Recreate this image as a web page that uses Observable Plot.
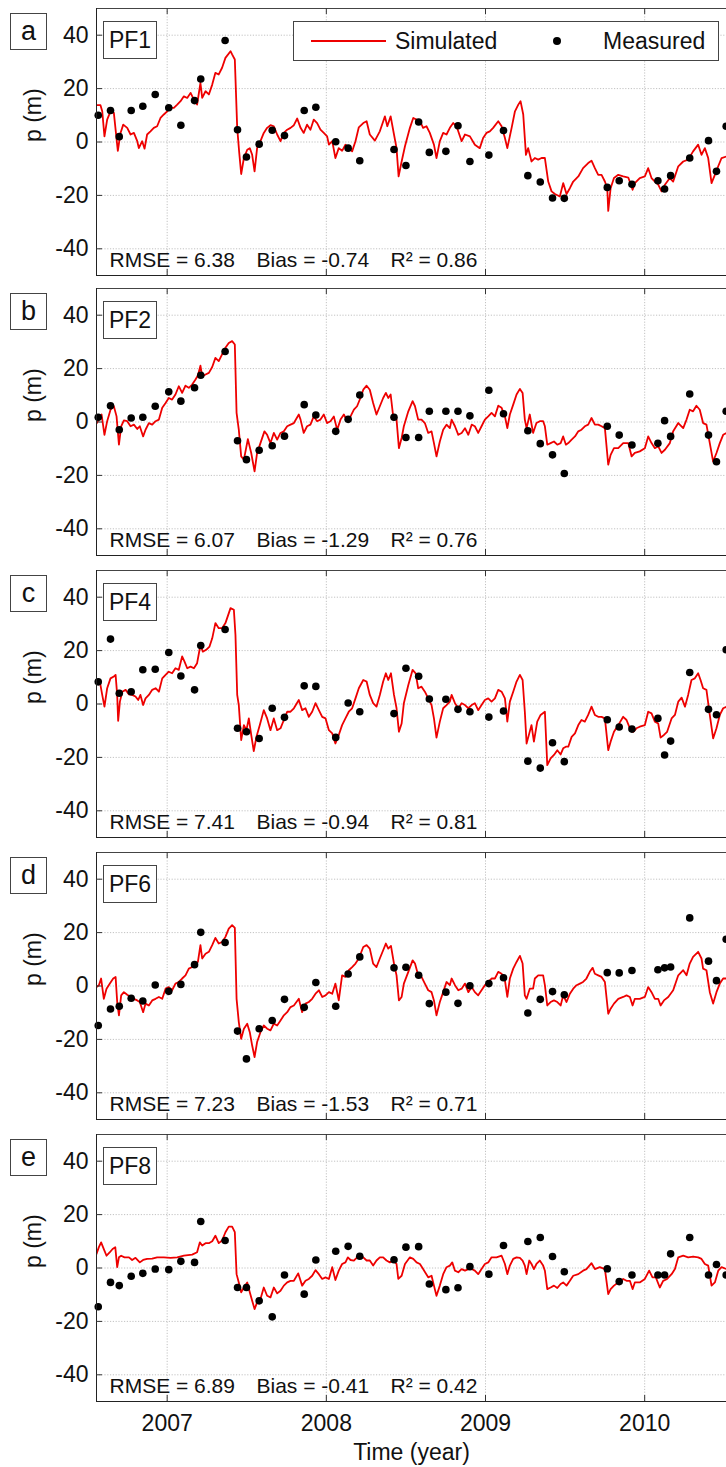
<!DOCTYPE html>
<html><head><meta charset="utf-8">
<script src="https://cdn.jsdelivr.net/npm/d3@7"></script>
<script src="https://cdn.jsdelivr.net/npm/@observablehq/plot@0.6"></script>
<style>
body{margin:0;background:#fff;}
#chart{position:relative;width:726px;height:1467px;overflow:hidden;font-family:"Liberation Sans",Arial,sans-serif;color:#111;}
#chart svg{position:absolute;left:0;}
.box{position:absolute;border:1px solid #444;background:#fff;box-sizing:border-box;display:flex;align-items:center;justify-content:center;}
.lg{position:absolute;}
</style></head>
<body><div id="chart"></div>
<script>
const years = [2007, 2008, 2009, 2010];
const pTicks = [-40, -20, 0, 20, 40];
const xDomain = [2006.556, 2010.514];
const yDomain = [-50, 50];
const xLabel = "Time (year)";
const yLabel = "p (m)";
const legendLabels = ["Simulated", "Measured"];
const panelLetters = ["a", "b", "c", "d", "e"];
const wellNames = ["PF1", "PF2", "PF4", "PF6", "PF8"];
const rmse = ["6.38", "6.07", "7.41", "7.23", "6.89"];
const bias = ["-0.74", "-1.29", "-0.94", "-1.53", "-0.41"];
const r2 = ["0.86", "0.76", "0.81", "0.71", "0.42"];

const measDates = [2006.567,2006.644,2006.699,2006.774,2006.847,2006.925,2007.010,2007.086,2007.172,2007.211,2007.364,2007.442,2007.498,2007.578,2007.660,2007.737,2007.861,2007.934,2008.059,2008.137,2008.210,2008.425,2008.500,2008.580,2008.647,2008.751,2008.827,2008.902,2009.021,2009.113,2009.266,2009.344,2009.421,2009.495,2009.765,2009.840,2009.920,2010.083,2010.125,2010.163,2010.283,2010.401,2010.451,2010.512];

const measPF1 = [10,11.8,2,11.8,13.4,17.8,12.8,6.3,15.5,23.6,38,4.6,-5.6,-0.8,4.4,2.4,11.8,13,0.1,-2.3,-7,-2.8,-8.8,7.5,-3.9,-3.5,6.1,-7.3,-4.9,4.3,-12.6,-15,-21,-21.1,-17,-14.5,-15.8,-14.5,-17.6,-12.6,-6,0.5,-11,5.9];
const measPF2 = [1.8,6.1,-2.9,1.5,1.8,5.9,11.3,7.8,12.8,17.5,26.4,-7,-14.1,-10.6,-8.9,-5.3,6.5,2.6,-3.5,1,10.1,1.8,-5.8,-5.8,4,4,4,2.3,11.9,3.1,-3.3,-8.1,-12.3,-19.3,-1.6,-4.9,-8.6,-8,0.5,-5.4,10.5,-4.9,-14.9,4];
const measPF4 = [8.3,24.3,4,4.6,12.8,13,19.3,10.5,5.3,21.9,27.9,-9.1,-10.4,-12.9,-1.6,-5,6.8,6.6,-12.5,0.4,-2.9,-3.6,13.4,10.4,1.9,1.8,-2,-2.9,-4.9,-2.6,-21.4,-24,-14.5,-21.6,-5.9,-8.6,-9.4,-5.4,-19.1,-13.9,11.8,-2,-4,20.3];
const measPF6 = [-14.8,-8.6,-7.6,-4.6,-5.6,0.4,-2,0.6,8,20.1,16.3,-16.9,-27.3,-16,-12.9,-5,-8,1.3,-7.6,4.5,10.9,6.8,7,4,-6.6,-2.3,-6.5,0.1,0.9,3.1,-10.1,-5,-2.1,-3.3,5,4.9,5.8,6.1,6.8,7.1,25.5,9.3,2,17.5];
const measPF8 = [-14.5,-5.4,-6.6,-3.1,-2,-0.4,-0.6,2.5,2.1,17.4,10.3,-7.3,-7.3,-12.3,-18.3,-2.6,-9.8,3,6.3,8.1,4.4,3.1,7.8,8,-6,-8.1,-7.4,0.5,-2.3,8.4,9.9,11.4,4.3,-1.4,-0.3,-5.1,-2.6,-2.6,-2.6,5.3,11.4,-2.6,1.3,-2.6];

const simPF1 = [[2006.556,13.8],[2006.581,13.8],[2006.592,11.5],[2006.606,2.1],[2006.623,8.4],[2006.644,11.5],[2006.665,10.9],[2006.690,-3.3],[2006.707,3.4],[2006.724,6.5],[2006.749,5.3],[2006.770,2.8],[2006.791,3.4],[2006.812,0.3],[2006.822,-2.3],[2006.843,0.3],[2006.858,-2.5],[2006.874,2.8],[2006.895,4],[2006.916,5.3],[2006.937,5.9],[2006.958,9],[2006.979,10.3],[2007.000,11.5],[2007.021,12.8],[2007.042,12.8],[2007.063,14],[2007.084,15.3],[2007.105,17.1],[2007.126,16.5],[2007.147,18.4],[2007.168,15.9],[2007.188,14],[2007.209,22.1],[2007.220,16.5],[2007.241,19],[2007.262,17.8],[2007.283,21.5],[2007.303,25.9],[2007.324,25.3],[2007.345,27.8],[2007.366,31.5],[2007.398,34],[2007.408,32.8],[2007.425,30.9],[2007.440,5.3],[2007.452,-3.5],[2007.465,-12],[2007.482,-6],[2007.503,-2.9],[2007.519,-2.3],[2007.534,-4.8],[2007.549,-11],[2007.565,-2.3],[2007.586,0.3],[2007.607,3.4],[2007.628,5.3],[2007.649,6.3],[2007.670,5.9],[2007.691,2.8],[2007.712,0.3],[2007.733,3.4],[2007.754,4.6],[2007.775,5.3],[2007.796,6.3],[2007.817,8.8],[2007.838,5.3],[2007.858,3.4],[2007.879,6.5],[2007.900,4.6],[2007.921,8.4],[2007.942,7.1],[2007.963,4.6],[2007.984,3.4],[2008.005,2.1],[2008.016,-1],[2008.037,0.3],[2008.057,-6],[2008.078,-2.3],[2008.099,-3.3],[2008.120,-1],[2008.141,-2.3],[2008.162,-3.5],[2008.183,0.3],[2008.204,5.5],[2008.232,7.1],[2008.253,7.8],[2008.273,2.8],[2008.305,0.5],[2008.336,4],[2008.368,9.6],[2008.383,5.9],[2008.404,9.6],[2008.425,2.8],[2008.441,-2.3],[2008.454,-12.9],[2008.473,-7.3],[2008.494,-1.6],[2008.525,5.3],[2008.546,9],[2008.567,8.4],[2008.588,7.8],[2008.608,5.3],[2008.629,5.9],[2008.650,3.4],[2008.676,-1],[2008.692,-6],[2008.713,0.3],[2008.734,3.4],[2008.755,2.8],[2008.776,5.3],[2008.797,7.1],[2008.818,5.9],[2008.850,0.3],[2008.871,2.8],[2008.902,2.1],[2008.933,-1],[2008.964,-2.3],[2008.985,1.5],[2009.006,3.4],[2009.027,4],[2009.048,5.3],[2009.080,7.8],[2009.101,5.9],[2009.122,1.5],[2009.137,-2.3],[2009.164,5.3],[2009.185,11.5],[2009.206,14],[2009.220,15.3],[2009.237,10.3],[2009.254,-4.8],[2009.268,-2.3],[2009.289,-7.3],[2009.310,-6],[2009.331,-6.6],[2009.352,-6],[2009.373,-6],[2009.394,-14.8],[2009.415,-18.5],[2009.436,-19.5],[2009.467,-20.4],[2009.488,-15.4],[2009.509,-19.5],[2009.530,-17.3],[2009.551,-14.8],[2009.583,-12.9],[2009.613,-9.8],[2009.645,-7.9],[2009.666,-7],[2009.687,-9.8],[2009.708,-12.3],[2009.729,-12.3],[2009.750,-14.8],[2009.765,-17.3],[2009.771,-25.8],[2009.786,-17.3],[2009.807,-13.5],[2009.834,-12.3],[2009.865,-12.9],[2009.897,-13.3],[2009.924,-17.9],[2009.938,-15.4],[2009.969,-13.5],[2010.001,-12.9],[2010.022,-9.8],[2010.043,-13.5],[2010.064,-14.8],[2010.085,-16],[2010.106,-18.5],[2010.127,-16],[2010.158,-13.5],[2010.179,-14.8],[2010.211,-9.1],[2010.242,-7.3],[2010.273,-6.6],[2010.304,-3.5],[2010.336,-1],[2010.357,-4.8],[2010.378,-2.3],[2010.399,-6],[2010.420,-15.4],[2010.441,-12.3],[2010.462,-9.1],[2010.483,-6],[2010.514,-5.4]];

const simPF2 = [[2006.556,-0.6],[2006.571,0.9],[2006.588,2.8],[2006.606,-4.8],[2006.623,0.3],[2006.644,4.6],[2006.665,5.9],[2006.682,2.1],[2006.697,-8.5],[2006.711,-1.6],[2006.728,0.6],[2006.749,0.3],[2006.770,-1.6],[2006.791,-1],[2006.812,-2.6],[2006.828,-1.6],[2006.849,-5.4],[2006.864,-2.9],[2006.885,-0.4],[2006.906,-1],[2006.927,0.3],[2006.948,0.9],[2006.969,5.3],[2006.990,7.1],[2007.010,9],[2007.031,8.4],[2007.052,10.3],[2007.073,13.4],[2007.094,10.9],[2007.115,13.6],[2007.136,12.8],[2007.157,14],[2007.178,15.9],[2007.193,17.4],[2007.209,21.1],[2007.220,17.1],[2007.241,17.8],[2007.262,18.4],[2007.283,20.6],[2007.303,24],[2007.324,22.8],[2007.345,25.3],[2007.366,27.8],[2007.387,29.6],[2007.408,30.3],[2007.425,29],[2007.436,3.4],[2007.450,-2.9],[2007.465,-12.9],[2007.482,-14.1],[2007.507,-6.4],[2007.528,-11.6],[2007.549,-18.5],[2007.565,-11.6],[2007.586,-7.9],[2007.611,-3.5],[2007.628,-4.8],[2007.649,-7.9],[2007.670,-4.1],[2007.691,-6.6],[2007.712,-4.1],[2007.733,-3.5],[2007.754,-1.6],[2007.775,-1],[2007.796,-0.4],[2007.827,2.8],[2007.838,0.9],[2007.858,-4.1],[2007.879,-1.6],[2007.900,-1],[2007.921,2.1],[2007.942,0.3],[2007.963,0.9],[2007.984,2.8],[2008.005,-0.4],[2008.026,0.3],[2008.047,2.1],[2008.068,-2.9],[2008.089,0.9],[2008.110,2.8],[2008.131,0.3],[2008.152,2.1],[2008.173,4.6],[2008.193,5.9],[2008.214,9],[2008.232,12.1],[2008.253,13.6],[2008.273,12.1],[2008.294,7.1],[2008.315,2.8],[2008.336,5.9],[2008.357,9],[2008.374,10.9],[2008.389,9],[2008.404,10.3],[2008.420,2.1],[2008.441,0.9],[2008.456,-9.8],[2008.473,-6],[2008.487,-1.6],[2008.515,4],[2008.542,7.8],[2008.557,5.9],[2008.577,0.9],[2008.598,0.9],[2008.619,-0.4],[2008.640,-4.1],[2008.661,-3.5],[2008.676,-7.9],[2008.692,-12.9],[2008.713,-7.3],[2008.734,-2.9],[2008.755,-1],[2008.776,-2.3],[2008.787,0.9],[2008.808,-1.6],[2008.829,-4.8],[2008.850,-4.1],[2008.871,-2.3],[2008.892,-4.8],[2008.913,-1],[2008.933,-1.6],[2008.954,-4.1],[2008.975,-1.6],[2008.996,0.9],[2009.017,2.1],[2009.038,3.4],[2009.059,2.1],[2009.080,6.1],[2009.101,5.3],[2009.122,2.1],[2009.137,-2.3],[2009.153,2.8],[2009.174,6.5],[2009.195,10.3],[2009.216,12.4],[2009.233,10.9],[2009.247,0.9],[2009.258,-2.3],[2009.278,2.8],[2009.299,-4.1],[2009.320,-0.4],[2009.341,0.3],[2009.362,0.3],[2009.373,-1.6],[2009.388,-8.5],[2009.409,-7.9],[2009.430,-7.3],[2009.451,-8.5],[2009.472,-7.9],[2009.488,-5.4],[2009.505,-8.5],[2009.520,-7.9],[2009.541,-6.6],[2009.562,-5.4],[2009.583,-3.5],[2009.603,-2.9],[2009.624,-1.6],[2009.645,-1],[2009.666,1.5],[2009.687,-1],[2009.708,-1],[2009.729,-1.6],[2009.750,-2.3],[2009.771,-16],[2009.786,-12.3],[2009.807,-9.8],[2009.834,-9.8],[2009.865,-7.9],[2009.897,-7.9],[2009.918,-12.9],[2009.938,-11.6],[2009.969,-11],[2010.001,-9.8],[2010.022,-5.4],[2010.043,-7.9],[2010.064,-9.8],[2010.085,-9.1],[2010.106,-11.6],[2010.127,-10.4],[2010.158,-7.9],[2010.179,-3.5],[2010.211,-0.4],[2010.242,-2.3],[2010.263,0.9],[2010.283,4.6],[2010.304,4],[2010.325,6.1],[2010.346,4.6],[2010.367,-0.4],[2010.388,-1],[2010.409,-7.9],[2010.430,-14.8],[2010.451,-11.6],[2010.472,-7.9],[2010.493,-4.8],[2010.514,-4.1]];

const simPF4 = [[2006.556,7.8],[2006.577,8.4],[2006.592,3.4],[2006.606,-1],[2006.623,5.9],[2006.644,9.6],[2006.665,10.3],[2006.676,10.9],[2006.686,3.4],[2006.692,-6.3],[2006.703,0.9],[2006.718,4.6],[2006.739,5.3],[2006.760,3.6],[2006.780,3.4],[2006.801,2.8],[2006.818,1.5],[2006.832,3.4],[2006.849,-0.4],[2006.864,2.1],[2006.885,3.4],[2006.906,5.3],[2006.927,5.9],[2006.948,4.6],[2006.969,9.6],[2006.990,10.9],[2007.010,12.1],[2007.031,11.5],[2007.052,13.4],[2007.073,12.8],[2007.094,17.8],[2007.109,15.9],[2007.126,13.4],[2007.147,14],[2007.168,13.4],[2007.188,15.3],[2007.209,22.1],[2007.224,19.6],[2007.245,20.3],[2007.266,21.5],[2007.283,24.6],[2007.303,30.3],[2007.324,28.4],[2007.345,28.4],[2007.366,30.3],[2007.398,35.9],[2007.419,35.3],[2007.429,25.9],[2007.440,3.4],[2007.450,-0.4],[2007.465,-13.5],[2007.482,-7.9],[2007.498,-9.8],[2007.513,-5.4],[2007.528,-11.6],[2007.544,-17.6],[2007.561,-12.3],[2007.582,-7.9],[2007.607,-2.3],[2007.628,-5.4],[2007.649,-9.8],[2007.670,-5.4],[2007.691,-9.8],[2007.712,-9.1],[2007.733,-6],[2007.754,-2.9],[2007.775,-2.9],[2007.796,-1.6],[2007.827,1.5],[2007.848,-2.3],[2007.869,-1.6],[2007.890,-4.8],[2007.911,-2.9],[2007.932,0.3],[2007.953,-2.3],[2007.974,-4.8],[2007.995,-5.4],[2008.016,-9.8],[2008.037,-11],[2008.057,-14.8],[2008.078,-11.6],[2008.099,-7.9],[2008.120,-5.4],[2008.141,-2.9],[2008.162,-1.6],[2008.183,2.1],[2008.204,5.9],[2008.232,9],[2008.253,8.4],[2008.273,3.4],[2008.294,0.3],[2008.315,-1],[2008.336,3.4],[2008.357,8.4],[2008.374,11.5],[2008.389,9],[2008.406,11.5],[2008.425,3.4],[2008.441,-1.6],[2008.456,-10.4],[2008.473,-7.3],[2008.487,0.3],[2008.515,7.1],[2008.542,12.8],[2008.561,11.5],[2008.577,5.9],[2008.598,6.5],[2008.619,4.6],[2008.640,2.1],[2008.661,-0.4],[2008.676,-5.4],[2008.692,-12.6],[2008.713,-6.6],[2008.734,-1.6],[2008.755,-0.4],[2008.776,0.9],[2008.787,3.4],[2008.808,0.3],[2008.829,-1.6],[2008.850,0.3],[2008.871,-0.4],[2008.892,-1.6],[2008.913,-0.4],[2008.933,0.3],[2008.954,-2.3],[2008.975,-0.4],[2008.996,1.5],[2009.017,2.1],[2009.038,0.9],[2009.059,2.1],[2009.080,5.3],[2009.101,4.6],[2009.122,2.1],[2009.137,-6.6],[2009.153,0.9],[2009.174,4.6],[2009.195,8.4],[2009.216,10.9],[2009.233,9],[2009.247,-2.9],[2009.258,-14.8],[2009.275,-11],[2009.289,-7.9],[2009.304,-14.1],[2009.325,-6.6],[2009.346,-4.1],[2009.373,-2.9],[2009.388,-22.9],[2009.409,-20.4],[2009.430,-19.1],[2009.451,-17.3],[2009.472,-18.9],[2009.488,-16.6],[2009.505,-16],[2009.520,-16],[2009.541,-12.3],[2009.562,-11],[2009.583,-7.9],[2009.603,-6],[2009.624,-6.6],[2009.645,-4.1],[2009.666,-1],[2009.687,-4.1],[2009.708,-4.8],[2009.729,-4.8],[2009.750,-5.4],[2009.771,-17.3],[2009.786,-14.1],[2009.807,-10.4],[2009.834,-7.9],[2009.865,-4.8],[2009.886,-6],[2009.907,-9.1],[2009.928,-10.4],[2009.948,-9.1],[2009.969,-8.5],[2010.001,-7.9],[2010.022,-2.9],[2010.043,-3.5],[2010.064,-6.6],[2010.085,-7.3],[2010.100,-12.6],[2010.121,-11.6],[2010.141,-10.4],[2010.169,-5.4],[2010.190,-4.1],[2010.211,0.9],[2010.232,2.4],[2010.253,-1],[2010.273,3.4],[2010.294,9],[2010.315,9.6],[2010.336,11.5],[2010.351,9],[2010.367,5.9],[2010.388,5.3],[2010.409,-4.1],[2010.430,-12.9],[2010.451,-9.1],[2010.472,-4.1],[2010.493,-1.6],[2010.514,-1]];

const simPF6 = [[2006.556,-0.4],[2006.571,0.3],[2006.585,2.8],[2006.602,-4.8],[2006.619,-1],[2006.640,0.9],[2006.661,2.8],[2006.676,3.4],[2006.686,-6],[2006.697,-11],[2006.711,-3.5],[2006.728,-2.3],[2006.749,-3.3],[2006.770,-4.1],[2006.791,-4.8],[2006.812,-5.4],[2006.828,-6],[2006.849,-9.8],[2006.864,-6.6],[2006.885,-7.3],[2006.906,-5.4],[2006.927,-4.8],[2006.948,-4.1],[2006.969,-4.8],[2006.990,-1],[2007.010,-0.4],[2007.031,-1.6],[2007.052,0.9],[2007.073,1.5],[2007.094,2.8],[2007.115,4],[2007.136,6.5],[2007.157,7.1],[2007.178,8.4],[2007.193,9],[2007.209,15.3],[2007.220,10.3],[2007.241,12.1],[2007.262,12.8],[2007.283,15.3],[2007.303,18],[2007.324,15.9],[2007.345,16.5],[2007.366,18.4],[2007.387,21.5],[2007.408,22.8],[2007.425,21.8],[2007.436,-4.8],[2007.450,-13.5],[2007.465,-19.8],[2007.482,-16],[2007.503,-14.1],[2007.519,-17.3],[2007.534,-22.3],[2007.549,-26.6],[2007.565,-21],[2007.586,-17.3],[2007.607,-14.8],[2007.628,-16],[2007.649,-16.6],[2007.670,-14.1],[2007.691,-14.8],[2007.712,-12.9],[2007.733,-11],[2007.754,-9.8],[2007.775,-7.9],[2007.796,-7.3],[2007.827,-4.8],[2007.848,-9.8],[2007.869,-6.6],[2007.890,-6],[2007.911,-4.8],[2007.932,-2.9],[2007.953,-1.6],[2007.974,-4.1],[2007.995,-3.5],[2008.016,-2.3],[2008.037,-2.9],[2008.057,0.9],[2008.078,-5.4],[2008.099,4],[2008.120,3.4],[2008.141,5.9],[2008.162,7.1],[2008.183,8.4],[2008.204,10.3],[2008.232,14.6],[2008.253,15.3],[2008.273,14],[2008.294,8.4],[2008.315,7.1],[2008.336,10.3],[2008.357,13.4],[2008.374,15.9],[2008.389,14],[2008.406,15],[2008.425,8.4],[2008.441,4],[2008.456,-5.4],[2008.473,-4.1],[2008.487,0.9],[2008.515,5.3],[2008.542,9.6],[2008.557,8.4],[2008.577,4],[2008.598,3.4],[2008.619,0.9],[2008.640,-1.6],[2008.661,-2.3],[2008.676,-5.4],[2008.692,-11],[2008.713,-6],[2008.734,-2.3],[2008.755,1.5],[2008.776,0.3],[2008.787,2.8],[2008.808,0.3],[2008.829,-1.6],[2008.850,-1],[2008.871,0.9],[2008.892,-2.3],[2008.913,-0.4],[2008.933,-2.3],[2008.954,-3.5],[2008.975,-1.6],[2008.996,0.3],[2009.017,1.5],[2009.038,2.8],[2009.059,2.8],[2009.080,5.3],[2009.101,4.6],[2009.122,2.1],[2009.137,-4.1],[2009.153,2.8],[2009.174,6.5],[2009.195,9],[2009.216,11.3],[2009.233,8.4],[2009.247,-3.5],[2009.258,-4.8],[2009.278,-1],[2009.299,-1],[2009.310,2.8],[2009.331,4],[2009.362,4],[2009.373,0.3],[2009.388,-7.3],[2009.409,-6],[2009.430,-5.4],[2009.451,-6],[2009.472,-7.3],[2009.488,-3.5],[2009.509,-6],[2009.530,-2.9],[2009.551,-1],[2009.572,0.3],[2009.593,0.9],[2009.613,1.5],[2009.634,2.8],[2009.655,5.3],[2009.673,6.8],[2009.687,4.6],[2009.708,4],[2009.729,3.4],[2009.750,1.5],[2009.771,-10.4],[2009.786,-8.5],[2009.807,-6.6],[2009.834,-4.8],[2009.865,-4.1],[2009.886,-3.5],[2009.907,-4.1],[2009.924,-7.3],[2009.938,-4.8],[2009.969,-4.8],[2010.001,-4.1],[2010.022,-0.4],[2010.043,-2.3],[2010.064,-4.8],[2010.085,-4.8],[2010.100,-7.3],[2010.121,-5.4],[2010.148,-4.1],[2010.179,-1.6],[2010.211,4],[2010.242,5.9],[2010.263,4],[2010.283,8.4],[2010.304,10.9],[2010.336,12.8],[2010.357,10.3],[2010.367,6.5],[2010.388,5.9],[2010.409,-2.3],[2010.430,-6.6],[2010.451,-2.3],[2010.472,0.9],[2010.493,2.8],[2010.514,2.8]];

const simPF8 = [[2006.556,5.3],[2006.571,7.8],[2006.585,9.6],[2006.602,7.1],[2006.619,4.6],[2006.640,5.9],[2006.657,7.1],[2006.674,7.8],[2006.686,0.3],[2006.697,4],[2006.711,4.6],[2006.732,4],[2006.760,4],[2006.780,3],[2006.801,3.8],[2006.828,2.1],[2006.849,3],[2006.874,3.4],[2006.906,3.5],[2006.937,4],[2006.979,4],[2007.021,3.8],[2007.063,4],[2007.105,4.6],[2007.157,5],[2007.188,5.9],[2007.205,9.6],[2007.220,8.4],[2007.241,9.3],[2007.262,9.3],[2007.283,10],[2007.303,12.1],[2007.324,9.3],[2007.345,10.3],[2007.366,13.4],[2007.387,15.5],[2007.408,15.5],[2007.425,13.4],[2007.436,-2.3],[2007.450,-5.4],[2007.465,-9.1],[2007.482,-7.3],[2007.503,-5.4],[2007.519,-9.1],[2007.534,-12.3],[2007.549,-15.4],[2007.565,-12.9],[2007.586,-11.6],[2007.607,-7.3],[2007.628,-10.4],[2007.649,-11],[2007.670,-7.3],[2007.691,-9.5],[2007.712,-8.5],[2007.733,-6.6],[2007.754,-5.4],[2007.775,-4.8],[2007.796,-4.8],[2007.823,-2],[2007.848,-6.6],[2007.869,-4.8],[2007.890,-4.1],[2007.911,-2.9],[2007.932,-0.8],[2007.953,-2.3],[2007.974,-4.1],[2007.995,-3.5],[2008.016,-4.1],[2008.037,0.3],[2008.057,-4.5],[2008.078,-1],[2008.099,1.5],[2008.120,2.1],[2008.135,4],[2008.152,3],[2008.173,2.8],[2008.193,4],[2008.214,4.3],[2008.232,4],[2008.253,2.8],[2008.273,2.8],[2008.294,0.9],[2008.315,2.8],[2008.336,4],[2008.357,4],[2008.378,2.8],[2008.399,2.1],[2008.420,2.8],[2008.441,1.5],[2008.452,-4.1],[2008.473,-2.9],[2008.494,1.5],[2008.525,4],[2008.546,3.4],[2008.567,2.1],[2008.588,1.5],[2008.608,-0.4],[2008.640,-3.5],[2008.661,-2.9],[2008.676,-6.6],[2008.692,-10.4],[2008.713,-6.6],[2008.734,-2.3],[2008.755,0.3],[2008.776,0.9],[2008.791,2.1],[2008.808,-1],[2008.829,-1.6],[2008.850,-0.4],[2008.871,-1],[2008.892,-0.4],[2008.913,-0.4],[2008.933,-1],[2008.954,-2.3],[2008.975,-0.4],[2008.996,1.5],[2009.017,2.1],[2009.038,4],[2009.069,4],[2009.101,4.6],[2009.122,1.5],[2009.137,-2.3],[2009.153,0.9],[2009.174,3.4],[2009.195,4],[2009.216,3.8],[2009.233,2.8],[2009.247,0.9],[2009.258,-2.3],[2009.275,2.8],[2009.289,1.5],[2009.304,-0.4],[2009.320,1.5],[2009.341,2.8],[2009.362,0.9],[2009.373,-1],[2009.388,-7.9],[2009.409,-7.3],[2009.430,-6.6],[2009.451,-7.5],[2009.472,-6],[2009.488,-5.4],[2009.509,-6.6],[2009.530,-4.8],[2009.551,-2.9],[2009.583,-2.3],[2009.613,-1],[2009.634,-0.4],[2009.666,1.8],[2009.687,-0.4],[2009.718,0.3],[2009.750,-0.4],[2009.771,-9.8],[2009.786,-7.9],[2009.807,-6.6],[2009.834,-5.4],[2009.865,-4.1],[2009.886,-4.8],[2009.907,-4.8],[2009.924,-7.9],[2009.938,-5.4],[2009.969,-5.4],[2010.001,-4.1],[2010.028,-1],[2010.049,-3.5],[2010.070,-3.5],[2010.095,-7.3],[2010.116,-4.8],[2010.141,-4.1],[2010.169,-2.3],[2010.190,-0.4],[2010.211,4],[2010.242,4.6],[2010.273,4],[2010.304,4.3],[2010.336,4],[2010.357,3.4],[2010.378,1.5],[2010.399,0.9],[2010.420,-6.6],[2010.441,-5.4],[2010.462,-1],[2010.483,0.3],[2010.514,-0.4]];

const simSeries = [simPF1, simPF2, simPF4, simPF6, simPF8];
const measSeries = [measPF1, measPF2, measPF4, measPF6, measPF8];

const chart = document.getElementById("chart");
const FONT = '"Liberation Sans", Arial, sans-serif';
const tops = [8, 288, 570, 852, 1134];
const H = 267, W = 630, ML = 96, MT = 8;
const gridStyle = {stroke: "#c2c2c2", strokeDasharray: "1.2,1.6"};

simSeries.forEach((sim, i) => {
  const last = i === 4;
  const MB = last ? 66 : 6;
  const simRows = sim.map(([t, p]) => ({t, p}));
  const measRows = measDates.map((t, j) => ({t, p: measSeries[i][j]}));
  const statStyle = {text: d => d, frameAnchor: "bottom-left", dy: -15, textAnchor: "start", lineAnchor: "middle", fontSize: 21};
  const marks = [
    Plot.ruleX(years, gridStyle),
    Plot.ruleY(pTicks, gridStyle),
    Plot.line(simRows, {x: "t", y: "p", stroke: "#ee0000", strokeWidth: 1.8, strokeLinejoin: "round", clip: true}),
    Plot.dot(measRows, {x: "t", y: "p", r: 3.8, fill: "#000", stroke: "none"}),
    Plot.ruleY([yDomain[0]], {stroke: "#222"}),
    Plot.ruleY([yDomain[1]], {stroke: "#444"}),
    Plot.ruleX([xDomain[0]], {stroke: "#222"}),
    Plot.tickX(years, {x: d => d, stroke: "#333", insetTop: H - 6}),
    Plot.tickX(years, {x: d => d, stroke: "#333", insetBottom: H - 6}),
    Plot.tickY(pTicks, {y: d => d, stroke: "#333", insetRight: W - 6}),
    Plot.axisY({ticks: pTicks, tickSize: 0, tickPadding: 8, tickFormat: d => String(d), fontSize: 23, label: null}),
    Plot.text([yLabel], {text: d => d, frameAnchor: "left", dx: -63, rotate: -90, lineAnchor: "middle", fontSize: 23}),
    Plot.text(["RMSE = " + rmse[i]], {...statStyle, dx: 13}),
    Plot.text(["Bias = " + bias[i]], {...statStyle, dx: 160}),
    Plot.text(["R\u00B2 = " + r2[i]], {...statStyle, dx: 294})
  ];
  if (last) {
    marks.push(Plot.axisX({ticks: years, tickSize: 0, tickPadding: 13, tickFormat: d => String(d), fontSize: 23, label: null}));
    marks.push(Plot.text([xLabel], {text: d => d, frameAnchor: "bottom", dy: 51, lineAnchor: "middle", fontSize: 23}));
  }
  const svg = Plot.plot({
    width: 726, height: MT + H + MB,
    marginLeft: ML, marginRight: 0, marginTop: MT, marginBottom: MB,
    x: last ? {domain: xDomain} : {domain: xDomain, axis: null},
    y: {domain: yDomain},
    style: {background: "transparent", overflow: "visible", fontFamily: FONT, fontSize: "22px", color: "#111"},
    marks
  });
  svg.style.top = (tops[i] - MT) + "px";
  chart.appendChild(svg);

  const letter = document.createElement("div");
  letter.className = "box";
  Object.assign(letter.style, {left: "10px", top: (tops[i] + 5) + "px", width: "37px", height: "37px", fontSize: "27px"});
  letter.textContent = panelLetters[i];
  chart.appendChild(letter);

  const name = document.createElement("div");
  name.className = "box";
  Object.assign(name.style, {left: "103px", top: (tops[i] + 13) + "px", width: "54px", height: "38px", fontSize: "23px"});
  name.textContent = wellNames[i];
  chart.appendChild(name);
});

// legend
const lg = document.createElement("div");
lg.className = "box";
Object.assign(lg.style, {left: "293px", top: (tops[0] + 13) + "px", width: "426px", height: "40px", display: "block", fontSize: "23px"});
lg.innerHTML =
  '<div class="lg" style="left:17px;top:18px;width:75px;height:2px;background:#ee0000"></div>' +
  '<span class="lg" style="left:101px;top:6px;line-height:26px">' + legendLabels[0] + '</span>' +
  '<div class="lg" style="left:259px;top:15px;width:8px;height:8px;border-radius:50%;background:#000"></div>' +
  '<span class="lg" style="left:309px;top:6px;line-height:26px">' + legendLabels[1] + '</span>';
chart.appendChild(lg);
</script></body></html>
